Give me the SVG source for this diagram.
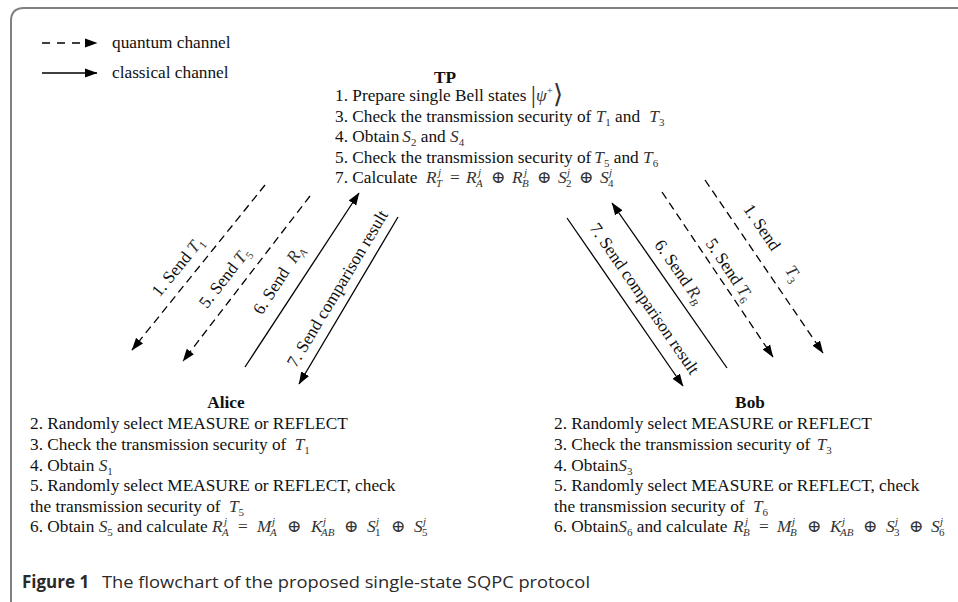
<svg xmlns="http://www.w3.org/2000/svg" width="958" height="602" viewBox="0 0 958 602">
<defs>
<marker id="ah" markerUnits="userSpaceOnUse" markerWidth="13" markerHeight="10" refX="12" refY="5" orient="auto" viewBox="0 0 13 10"><path d="M0,0.5 L12.5,5 L0,9.5 Z" fill="#000"/></marker>
</defs>
<style>
.t{font-family:"Liberation Serif","Times New Roman","DejaVu Serif",serif;font-size:17.3px;fill:#111}
.b{font-weight:bold}
.i{font-style:italic;fill:#333}
.sm{font-size:11px;font-style:italic;fill:#333}
.sn{font-size:11px;fill:#333}
.op{fill:#333}
.ln{stroke:#000;stroke-width:1.3;fill:none}
.q{stroke-dasharray:8 5}
.cap{font-family:"Open Sans","Noto Sans","Liberation Sans",sans-serif;font-size:17px;fill:#2a2a2a}
</style>
<rect width="958" height="602" fill="#fff"/>
<path d="M11 602 V21 Q11 8 24 8 H958" fill="none" stroke="#808080" stroke-width="2"/>

<g id="legend">
<line class="ln" stroke-dasharray="8 7" x1="42" y1="43" x2="97" y2="43" marker-end="url(#ah)"/>
<text class="t" x="112" y="48">quantum channel</text>
<line class="ln" x1="42" y1="73" x2="97" y2="73" marker-end="url(#ah)"/>
<text class="t" x="112" y="78">classical channel</text>
</g>

<g id="tp">
<text class="t b" x="445" y="83" text-anchor="middle">TP</text>
<text class="t" x="335" y="101">1. Prepare single Bell states <tspan class="op" font-size="26" dy="2">|</tspan><tspan class="i" dy="-2">ψ</tspan><tspan class="sn" dy="-7">+</tspan><tspan class="op" font-size="26" dy="9">⟩</tspan></text>
<text class="t" x="335" y="121.5">3. Check the transmission security of <tspan class="i">T</tspan><tspan class="sn" dy="4">1</tspan><tspan dy="-4"> and </tspan><tspan class="i" dx="5">T</tspan><tspan class="sn" dy="4">3</tspan></text>
<text class="t" x="335" y="142">4. Obtain<tspan class="i" dx="3">S</tspan><tspan class="sn" dy="4">2</tspan><tspan dy="-4"> and </tspan><tspan class="i">S</tspan><tspan class="sn" dy="4">4</tspan></text>
<text class="t" x="335" y="162.5">5. Check the transmission security of<tspan class="i" dx="3">T</tspan><tspan class="sn" dy="4">5</tspan><tspan dy="-4"> and </tspan><tspan class="i">T</tspan><tspan class="sn" dy="4">6</tspan></text>
<text class="t" x="335" y="183">7. Calculate <tspan class="i" x="426" y="183">R</tspan><tspan class="sm" x="438" y="176">j</tspan><tspan class="sm" x="436" y="187">T</tspan><tspan class="op" x="450" y="183">=</tspan><tspan class="i" x="466">R</tspan><tspan class="sm" x="478" y="176">j</tspan><tspan class="sm" x="476" y="187">A</tspan><tspan class="op" x="491" y="183">⊕</tspan><tspan class="i" x="512">R</tspan><tspan class="sm" x="524" y="176">j</tspan><tspan class="sm" x="522" y="187">B</tspan><tspan class="op" x="537" y="183">⊕</tspan><tspan class="i" x="558">S</tspan><tspan class="sm" x="567" y="176">j</tspan><tspan class="sn" x="566" y="187">2</tspan><tspan class="op" x="579" y="183">⊕</tspan><tspan class="i" x="600">S</tspan><tspan class="sm" x="609" y="176">j</tspan><tspan class="sn" x="608" y="187">4</tspan></text>
</g>

<g id="alice">
<text class="t b" x="226" y="408" text-anchor="middle">Alice</text>
<text class="t" x="30" y="429">2. Randomly select MEASURE or REFLECT</text>
<text class="t" x="30" y="450">3. Check the transmission security of <tspan class="i" dx="4">T</tspan><tspan class="sn" dy="4">1</tspan></text>
<text class="t" x="30" y="471">4. Obtain <tspan class="i">S</tspan><tspan class="sn" dy="4">1</tspan></text>
<text class="t" x="30" y="491">5. Randomly select MEASURE or REFLECT, check</text>
<text class="t" x="30" y="512">the transmission security of <tspan class="i" dx="4">T</tspan><tspan class="sn" dy="4">5</tspan></text>
<text class="t" x="30" y="532">6. Obtain <tspan class="i">S</tspan><tspan class="sn" dy="4">5</tspan><tspan dy="-4"> and calculate</tspan><tspan class="i" x="212" y="532">R</tspan><tspan class="sm" x="224" y="525">j</tspan><tspan class="sm" x="222" y="536">A</tspan><tspan class="op" x="238" y="532">=</tspan><tspan class="i" x="257">M</tspan><tspan class="sm" x="272" y="525">j</tspan><tspan class="sm" x="270" y="536">A</tspan><tspan class="op" x="287" y="532">⊕</tspan><tspan class="i" x="311">K</tspan><tspan class="sm" x="323" y="525">j</tspan><tspan class="sm" x="321" y="536">AB</tspan><tspan class="op" x="344" y="532">⊕</tspan><tspan class="i" x="367">S</tspan><tspan class="sm" x="376" y="525">j</tspan><tspan class="sn" x="375" y="536">1</tspan><tspan class="op" x="391" y="532">⊕</tspan><tspan class="i" x="414">S</tspan><tspan class="sm" x="423" y="525">j</tspan><tspan class="sn" x="422" y="536">5</tspan></text>
</g>

<g id="bob">
<text class="t b" x="750" y="408" text-anchor="middle">Bob</text>
<text class="t" x="554" y="429">2. Randomly select MEASURE or REFLECT</text>
<text class="t" x="554" y="450">3. Check the transmission security of <tspan class="i" dx="2">T</tspan><tspan class="sn" dy="4">3</tspan></text>
<text class="t" x="554" y="471">4. Obtain<tspan class="i">S</tspan><tspan class="sn" dy="4">3</tspan></text>
<text class="t" x="554" y="491">5. Randomly select MEASURE or REFLECT, check</text>
<text class="t" x="554" y="512">the transmission security of <tspan class="i" dx="4">T</tspan><tspan class="sn" dy="4">6</tspan></text>
<text class="t" x="554" y="532">6. Obtain<tspan class="i">S</tspan><tspan class="sn" dy="4">6</tspan><tspan dy="-4"> and calculate</tspan><tspan class="i" x="733" y="532">R</tspan><tspan class="sm" x="745" y="525">j</tspan><tspan class="sm" x="743" y="536">B</tspan><tspan class="op" x="759" y="532">=</tspan><tspan class="i" x="777">M</tspan><tspan class="sm" x="792" y="525">j</tspan><tspan class="sm" x="790" y="536">B</tspan><tspan class="op" x="807" y="532">⊕</tspan><tspan class="i" x="830">K</tspan><tspan class="sm" x="842" y="525">j</tspan><tspan class="sm" x="840" y="536">AB</tspan><tspan class="op" x="863" y="532">⊕</tspan><tspan class="i" x="886">S</tspan><tspan class="sm" x="895" y="525">j</tspan><tspan class="sn" x="894" y="536">3</tspan><tspan class="op" x="909" y="532">⊕</tspan><tspan class="i" x="931">S</tspan><tspan class="sm" x="940" y="525">j</tspan><tspan class="sn" x="939" y="536">6</tspan></text>
</g>

<g id="connectors">
<line class="ln q" x1="265" y1="185" x2="132" y2="350" marker-end="url(#ah)"/>
<line class="ln q" x1="310" y1="196" x2="183" y2="361" marker-end="url(#ah)"/>
<line class="ln" x1="245" y1="367" x2="359" y2="193" marker-end="url(#ah)"/>
<line class="ln" x1="398" y1="217" x2="299" y2="384" marker-end="url(#ah)"/>
<line class="ln" x1="567" y1="218" x2="683" y2="386" marker-end="url(#ah)"/>
<line class="ln" x1="727" y1="368" x2="612" y2="203" marker-end="url(#ah)"/>
<line class="ln q" x1="662" y1="192" x2="773" y2="357" marker-end="url(#ah)"/>
<line class="ln q" x1="705" y1="180" x2="823" y2="353" marker-end="url(#ah)"/>

<text class="t" text-anchor="middle" y="5" transform="translate(178,267) rotate(-51)">1. Send <tspan class="i">T</tspan><tspan class="sn" dy="4">1</tspan></text>
<text class="t" text-anchor="middle" y="5" transform="translate(225,278) rotate(-52)">5. Send <tspan class="i">T</tspan><tspan class="sn" dy="4">5</tspan></text>
<text class="t" text-anchor="middle" y="5" transform="translate(279,280) rotate(-57)">6. Send <tspan class="i" dx="5">R</tspan><tspan class="sm" dy="4">A</tspan></text>
<text class="t" text-anchor="middle" y="5" transform="translate(338,289) rotate(-59)">7. Send comparison result</text>
<text class="t" text-anchor="middle" y="5" transform="translate(644,299) rotate(55.4)">7. Send comparison result</text>
<text class="t" text-anchor="middle" y="5" transform="translate(679,272) rotate(55)">6. Send <tspan class="i">R</tspan><tspan class="sm" dy="4">B</tspan></text>
<text class="t" text-anchor="middle" y="5" transform="translate(729,270) rotate(56)">5. Send <tspan class="i">T</tspan><tspan class="sn" dy="4">6</tspan></text>
<text class="t" text-anchor="middle" y="5" transform="translate(772,243) rotate(55.7)">1. Send <tspan class="i" dx="18">T</tspan><tspan class="sn" dy="4">3</tspan></text>
</g>

<g id="caption">
<text class="cap" x="22" y="588" font-weight="bold" fill="#1a1a1a">Figure 1</text>
<text class="cap" x="102" y="588" textLength="488" lengthAdjust="spacingAndGlyphs">The flowchart of the proposed single-state SQPC protocol</text>
</g>
</svg>
